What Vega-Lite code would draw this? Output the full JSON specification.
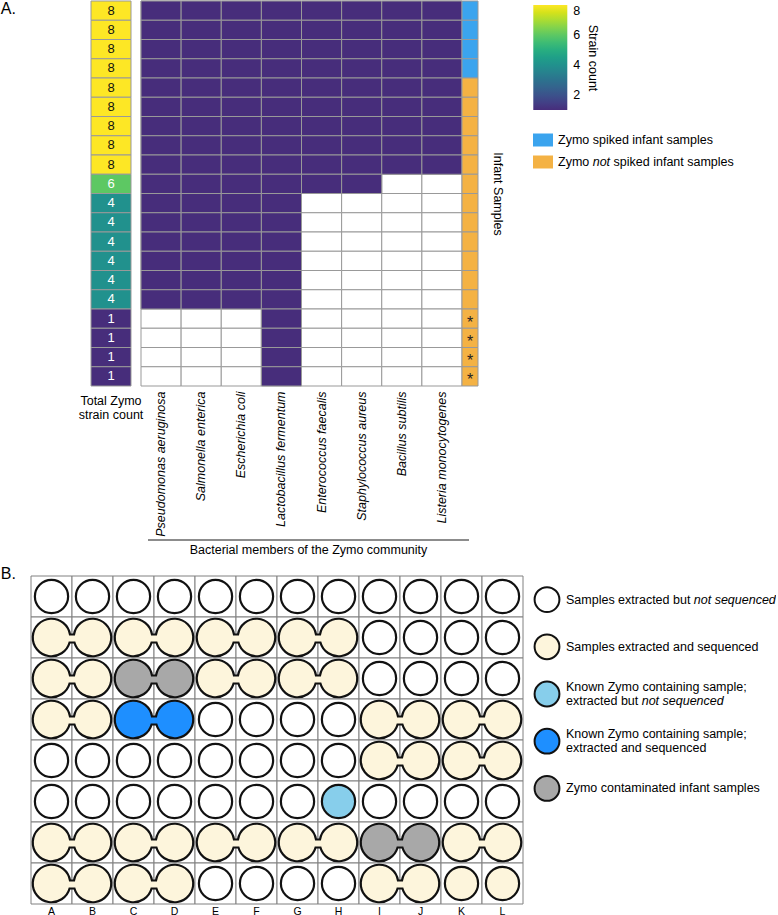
{
"$schema": "https://vega.github.io/schema/vega-lite/v6.json",
"padding": 0,
"config": {"font": "Liberation Sans", "view": {"stroke": null}, "axis": {"titleFontWeight": "normal", "labelColor": "#000", "titleColor": "#000"}, "legend": {"labelColor": "#000", "titleColor": "#000"}},
"datasets": {
"samples": [
{"id":1,"count":8,"spiked":"Zymo spiked infant samples","star":"","Pseudomonas aeruginosa":1,"Salmonella enterica":1,"Escherichia coli":1,"Lactobacillus fermentum":1,"Enterococcus faecalis":1,"Staphylococcus aureus":1,"Bacillus subtilis":1,"Listeria monocytogenes":1},
{"id":2,"count":8,"spiked":"Zymo spiked infant samples","star":"","Pseudomonas aeruginosa":1,"Salmonella enterica":1,"Escherichia coli":1,"Lactobacillus fermentum":1,"Enterococcus faecalis":1,"Staphylococcus aureus":1,"Bacillus subtilis":1,"Listeria monocytogenes":1},
{"id":3,"count":8,"spiked":"Zymo spiked infant samples","star":"","Pseudomonas aeruginosa":1,"Salmonella enterica":1,"Escherichia coli":1,"Lactobacillus fermentum":1,"Enterococcus faecalis":1,"Staphylococcus aureus":1,"Bacillus subtilis":1,"Listeria monocytogenes":1},
{"id":4,"count":8,"spiked":"Zymo spiked infant samples","star":"","Pseudomonas aeruginosa":1,"Salmonella enterica":1,"Escherichia coli":1,"Lactobacillus fermentum":1,"Enterococcus faecalis":1,"Staphylococcus aureus":1,"Bacillus subtilis":1,"Listeria monocytogenes":1},
{"id":5,"count":8,"spiked":"Zymo not spiked infant samples","star":"","Pseudomonas aeruginosa":1,"Salmonella enterica":1,"Escherichia coli":1,"Lactobacillus fermentum":1,"Enterococcus faecalis":1,"Staphylococcus aureus":1,"Bacillus subtilis":1,"Listeria monocytogenes":1},
{"id":6,"count":8,"spiked":"Zymo not spiked infant samples","star":"","Pseudomonas aeruginosa":1,"Salmonella enterica":1,"Escherichia coli":1,"Lactobacillus fermentum":1,"Enterococcus faecalis":1,"Staphylococcus aureus":1,"Bacillus subtilis":1,"Listeria monocytogenes":1},
{"id":7,"count":8,"spiked":"Zymo not spiked infant samples","star":"","Pseudomonas aeruginosa":1,"Salmonella enterica":1,"Escherichia coli":1,"Lactobacillus fermentum":1,"Enterococcus faecalis":1,"Staphylococcus aureus":1,"Bacillus subtilis":1,"Listeria monocytogenes":1},
{"id":8,"count":8,"spiked":"Zymo not spiked infant samples","star":"","Pseudomonas aeruginosa":1,"Salmonella enterica":1,"Escherichia coli":1,"Lactobacillus fermentum":1,"Enterococcus faecalis":1,"Staphylococcus aureus":1,"Bacillus subtilis":1,"Listeria monocytogenes":1},
{"id":9,"count":8,"spiked":"Zymo not spiked infant samples","star":"","Pseudomonas aeruginosa":1,"Salmonella enterica":1,"Escherichia coli":1,"Lactobacillus fermentum":1,"Enterococcus faecalis":1,"Staphylococcus aureus":1,"Bacillus subtilis":1,"Listeria monocytogenes":1},
{"id":10,"count":6,"spiked":"Zymo not spiked infant samples","star":"","Pseudomonas aeruginosa":1,"Salmonella enterica":1,"Escherichia coli":1,"Lactobacillus fermentum":1,"Enterococcus faecalis":1,"Staphylococcus aureus":1,"Bacillus subtilis":0,"Listeria monocytogenes":0},
{"id":11,"count":4,"spiked":"Zymo not spiked infant samples","star":"","Pseudomonas aeruginosa":1,"Salmonella enterica":1,"Escherichia coli":1,"Lactobacillus fermentum":1,"Enterococcus faecalis":0,"Staphylococcus aureus":0,"Bacillus subtilis":0,"Listeria monocytogenes":0},
{"id":12,"count":4,"spiked":"Zymo not spiked infant samples","star":"","Pseudomonas aeruginosa":1,"Salmonella enterica":1,"Escherichia coli":1,"Lactobacillus fermentum":1,"Enterococcus faecalis":0,"Staphylococcus aureus":0,"Bacillus subtilis":0,"Listeria monocytogenes":0},
{"id":13,"count":4,"spiked":"Zymo not spiked infant samples","star":"","Pseudomonas aeruginosa":1,"Salmonella enterica":1,"Escherichia coli":1,"Lactobacillus fermentum":1,"Enterococcus faecalis":0,"Staphylococcus aureus":0,"Bacillus subtilis":0,"Listeria monocytogenes":0},
{"id":14,"count":4,"spiked":"Zymo not spiked infant samples","star":"","Pseudomonas aeruginosa":1,"Salmonella enterica":1,"Escherichia coli":1,"Lactobacillus fermentum":1,"Enterococcus faecalis":0,"Staphylococcus aureus":0,"Bacillus subtilis":0,"Listeria monocytogenes":0},
{"id":15,"count":4,"spiked":"Zymo not spiked infant samples","star":"","Pseudomonas aeruginosa":1,"Salmonella enterica":1,"Escherichia coli":1,"Lactobacillus fermentum":1,"Enterococcus faecalis":0,"Staphylococcus aureus":0,"Bacillus subtilis":0,"Listeria monocytogenes":0},
{"id":16,"count":4,"spiked":"Zymo not spiked infant samples","star":"","Pseudomonas aeruginosa":1,"Salmonella enterica":1,"Escherichia coli":1,"Lactobacillus fermentum":1,"Enterococcus faecalis":0,"Staphylococcus aureus":0,"Bacillus subtilis":0,"Listeria monocytogenes":0},
{"id":17,"count":1,"spiked":"Zymo not spiked infant samples","star":"*","Pseudomonas aeruginosa":0,"Salmonella enterica":0,"Escherichia coli":0,"Lactobacillus fermentum":1,"Enterococcus faecalis":0,"Staphylococcus aureus":0,"Bacillus subtilis":0,"Listeria monocytogenes":0},
{"id":18,"count":1,"spiked":"Zymo not spiked infant samples","star":"*","Pseudomonas aeruginosa":0,"Salmonella enterica":0,"Escherichia coli":0,"Lactobacillus fermentum":1,"Enterococcus faecalis":0,"Staphylococcus aureus":0,"Bacillus subtilis":0,"Listeria monocytogenes":0},
{"id":19,"count":1,"spiked":"Zymo not spiked infant samples","star":"*","Pseudomonas aeruginosa":0,"Salmonella enterica":0,"Escherichia coli":0,"Lactobacillus fermentum":1,"Enterococcus faecalis":0,"Staphylococcus aureus":0,"Bacillus subtilis":0,"Listeria monocytogenes":0},
{"id":20,"count":1,"spiked":"Zymo not spiked infant samples","star":"*","Pseudomonas aeruginosa":0,"Salmonella enterica":0,"Escherichia coli":0,"Lactobacillus fermentum":1,"Enterococcus faecalis":0,"Staphylococcus aureus":0,"Bacillus subtilis":0,"Listeria monocytogenes":0}
],
"plate": [
{"row":1,"col":["A","B","C","D","E","F","G","H","I","J","K","L"],"st":["notseq","notseq","notseq","notseq","notseq","notseq","notseq","notseq","notseq","notseq","notseq","notseq"],"p":[0,0,0,0,0,0,0,0,0,0,0,0]},
{"row":2,"col":["A","B","C","D","E","F","G","H","I","J","K","L"],"st":["seq","seq","seq","seq","seq","seq","seq","seq","notseq","notseq","notseq","notseq"],"p":[1,1,1,1,1,1,1,1,0,0,0,0]},
{"row":3,"col":["A","B","C","D","E","F","G","H","I","J","K","L"],"st":["seq","seq","contam","contam","seq","seq","seq","seq","notseq","notseq","notseq","notseq"],"p":[1,1,1,1,1,1,1,1,0,0,0,0]},
{"row":4,"col":["A","B","C","D","E","F","G","H","I","J","K","L"],"st":["seq","seq","kseq","kseq","notseq","notseq","notseq","notseq","seq","seq","seq","seq"],"p":[1,1,1,1,0,0,0,0,1,1,1,1]},
{"row":5,"col":["A","B","C","D","E","F","G","H","I","J","K","L"],"st":["notseq","notseq","notseq","notseq","notseq","notseq","notseq","notseq","seq","seq","seq","seq"],"p":[0,0,0,0,0,0,0,0,1,1,1,1]},
{"row":6,"col":["A","B","C","D","E","F","G","H","I","J","K","L"],"st":["notseq","notseq","notseq","notseq","notseq","notseq","notseq","knot","notseq","notseq","notseq","notseq"],"p":[0,0,0,0,0,0,0,0,0,0,0,0]},
{"row":7,"col":["A","B","C","D","E","F","G","H","I","J","K","L"],"st":["seq","seq","seq","seq","seq","seq","seq","seq","contam","contam","seq","seq"],"p":[1,1,1,1,1,1,1,1,1,1,1,1]},
{"row":8,"col":["A","B","C","D","E","F","G","H","I","J","K","L"],"st":["seq","seq","seq","seq","notseq","notseq","notseq","notseq","seq","seq","seq","seq"],"p":[1,1,1,1,0,0,0,0,1,1,0,0]}
],
"pairs": [
{"row":2,"col":"A","st":"seq"},{"row":2,"col":"C","st":"seq"},{"row":2,"col":"E","st":"seq"},{"row":2,"col":"G","st":"seq"},
{"row":3,"col":"A","st":"seq"},{"row":3,"col":"C","st":"contam"},{"row":3,"col":"E","st":"seq"},{"row":3,"col":"G","st":"seq"},
{"row":4,"col":"A","st":"seq"},{"row":4,"col":"C","st":"kseq"},{"row":4,"col":"I","st":"seq"},{"row":4,"col":"K","st":"seq"},
{"row":5,"col":"I","st":"seq"},{"row":5,"col":"K","st":"seq"},
{"row":7,"col":"A","st":"seq"},{"row":7,"col":"C","st":"seq"},{"row":7,"col":"E","st":"seq"},{"row":7,"col":"G","st":"seq"},{"row":7,"col":"I","st":"contam"},{"row":7,"col":"K","st":"seq"},
{"row":8,"col":"A","st":"seq"},{"row":8,"col":"C","st":"seq"},{"row":8,"col":"I","st":"seq"}
]
},
"resolve": {"scale": {"fill": "independent"}},
"bounds": "flush",
"spacing": 575,
"vconcat": [
{"hconcat": [
  {"width": 60, "height": 385, "data": {"values": []}, "mark": {"type": "point", "opacity": 0}},
  {"width": 40, "height": 385, "data": {"name": "samples"},
   "title": {"text": ["Total Zymo", "strain count"], "orient": "bottom", "anchor": "middle", "frame": "group", "fontSize": 12.5, "fontWeight": "normal", "offset": 8, "baseline": "top", "lineHeight": 14, "color": "#000"},
   "encoding": {"y": {"field": "id", "type": "ordinal", "scale": {"paddingInner": 0, "paddingOuter": 0},
     "axis": {"labels": false, "ticks": false, "domain": false, "title": "A.", "titleAngle": 0, "titleX": -90.7, "titleY": 12, "titleAlign": "left", "titleBaseline": "alphabetic", "titleFontSize": 16, "titleFontWeight": "normal"}}},
   "layer": [
     {"mark": {"type": "rect", "stroke": "#999", "strokeWidth": 1},
      "encoding": {"color": {"field": "count", "type": "quantitative", "scale": {"domain": [1, 8], "scheme": {"name": "viridis", "extent": [0.125, 1]}},
        "legend": {"orient": "none", "legendX": 502.3, "legendY": 4, "title": "Strain count", "titleOrient": "right", "titleAngle": 90, "titleAnchor": "middle", "titleFontSize": 12.5, "titleFontWeight": "normal", "titlePadding": 6, "gradientLength": 105, "gradientThickness": 34, "values": [2, 4, 6, 8], "labelFontSize": 12.5, "labelOffset": 6, "direction": "vertical", "gradientStrokeWidth": 0}}}},
     {"mark": {"type": "text", "fontSize": 13, "baseline": "middle"},
      "encoding": {"text": {"field": "count", "type": "quantitative"}, "fill": {"condition": {"test": "datum.count == 8", "value": "#111"}, "value": "#ffffff"}}}
   ]},
  {"width": 10, "height": 385, "data": {"values": []}, "mark": {"type": "point", "opacity": 0}},
  {"width": 321, "height": 385, "data": {"name": "samples"},
   "transform": [{"fold": ["Pseudomonas aeruginosa", "Salmonella enterica", "Escherichia coli", "Lactobacillus fermentum", "Enterococcus faecalis", "Staphylococcus aureus", "Bacillus subtilis", "Listeria monocytogenes"], "as": ["species", "present"]}],
   "encoding": {"y": {"field": "id", "type": "ordinal", "axis": null, "scale": {"paddingInner": 0, "paddingOuter": 0}}},
   "layer": [
     {"mark": {"type": "rect", "fill": "#ffffff", "stroke": "#999", "strokeWidth": 1},
      "encoding": {"x": {"field": "species", "type": "nominal", "sort": null, "scale": {"paddingInner": 0, "paddingOuter": 0},
        "axis": {"orient": "bottom", "title": null, "domain": false, "ticks": false, "labelAngle": -90, "labelAlign": "right", "labelBaseline": "middle", "labelFontSize": 12.5, "labelFontStyle": "italic", "labelPadding": 5, "labelLimit": 0}}}},
     {"transform": [{"filter": "datum.present == 1"}],
      "mark": {"type": "rect", "stroke": "#999", "strokeWidth": 1},
      "encoding": {"x": {"field": "species", "type": "nominal", "sort": null,
        "axis": {"orient": "bottom", "labels": false, "ticks": false, "domain": true, "domainColor": "#666", "domainWidth": 1.5, "offset": 147, "translate": 7, "title": "Bacterial members of the Zymo community", "titleFontSize": 12.5, "titleFontWeight": "normal", "titlePadding": 4}},
        "color": {"field": "present", "type": "quantitative", "scale": {"domain": [1, 8], "scheme": {"name": "viridis", "extent": [0.125, 1]}}, "legend": null}}}
   ],
   "resolve": {"axis": {"x": "independent"}}},
  {"width": 16, "height": 385, "data": {"name": "samples"},
   "encoding": {"y": {"field": "id", "type": "ordinal", "scale": {"paddingInner": 0, "paddingOuter": 0},
     "axis": {"orient": "right", "labels": false, "ticks": false, "domain": false, "title": "Infant Samples", "titleAngle": 90, "titleFontSize": 12.5, "titleFontWeight": "normal", "titlePadding": 12}}},
   "layer": [
     {"mark": {"type": "rect", "stroke": "#999", "strokeWidth": 1},
      "encoding": {"fill": {"field": "spiked", "type": "nominal", "scale": {"domain": ["Zymo spiked infant samples", "Zymo not spiked infant samples"], "range": ["#3ba4ee", "#f4b244"]}, "legend": null}}},
     {"mark": {"type": "text", "fontSize": 16, "baseline": "middle", "dy": 4, "color": "#222"},
      "encoding": {"text": {"field": "star"}}}
   ]},
  {"width": 10, "height": 385, "data": {"values": []}, "mark": {"type": "point", "opacity": 0}},
  {"width": 110, "height": 385,
   "data": {"values": [{"k": "Zymo spiked infant samples", "a": "Zymo spiked infant samples", "i": "", "b": ""}, {"k": "Zymo not spiked infant samples", "a": "Zymo", "i": "not", "b": "spiked infant samples"}]},
   "encoding": {"y": {"field": "k", "type": "nominal", "sort": null, "axis": null, "scale": {"type": "point", "padding": 0, "range": [139, 161]}}},
   "layer": [
     {"mark": {"type": "point", "shape": "M -10 -6.5 L 10 -6.5 L 10 6.5 L -10 6.5 Z", "size": 4, "filled": true, "opacity": 1, "strokeWidth": 0},
      "encoding": {"fill": {"field": "k", "type": "nominal", "legend": null}}},
     {"mark": {"type": "text", "align": "left", "baseline": "middle", "dx": 15, "fontSize": 12.5}, "encoding": {"text": {"field": "a"}}},
     {"mark": {"type": "text", "align": "left", "baseline": "middle", "dx": 49.7, "fontSize": 12.5, "fontStyle": "italic"}, "encoding": {"text": {"field": "i"}}},
     {"mark": {"type": "text", "align": "left", "baseline": "middle", "dx": 70.6, "fontSize": 12.5}, "encoding": {"text": {"field": "b"}}}
   ]}
], "spacing": 0, "bounds": "flush"},
{"hconcat": [
  {"width": 492, "height": 328, "data": {"name": "plate"},
   "transform": [{"flatten": ["col", "st", "p"]}],
   "encoding": {
     "x": {"field": "col", "type": "nominal", "scale": {"type": "band", "paddingInner": 0, "paddingOuter": 0},
       "axis": {"orient": "bottom", "labelAngle": 0, "ticks": false, "domain": false, "title": null, "labelFontSize": 10.5, "labelPadding": 2}},
     "y": {"field": "row", "type": "ordinal", "scale": {"type": "band", "paddingInner": 0, "paddingOuter": 0},
       "axis": {"labels": false, "ticks": false, "domain": false, "title": "B.", "titleAngle": 0, "titleX": -30.7, "titleY": 2, "titleAlign": "left", "titleBaseline": "alphabetic", "titleFontSize": 16, "titleFontWeight": "normal"}}},
   "layer": [
     {"mark": {"type": "rect", "fill": "#ffffff", "stroke": "#808080", "strokeWidth": 1}},
     {"transform": [{"filter": "datum.p == 0"}],
      "mark": {"type": "point", "shape": "circle", "size": 1104, "filled": true, "opacity": 1, "stroke": "#111", "strokeWidth": 2.2},
      "encoding": {"fill": {"field": "st", "type": "nominal", "scale": {"domain": ["notseq", "seq", "knot", "kseq", "contam"], "range": ["#ffffff", "#fdf5dc", "#87ceeb", "#1e8fff", "#a8a8a8"]}, "legend": null}}},
     {"data": {"name": "pairs"},
      "mark": {"type": "point", "shape": "M -1.99 -3 L 1.99 -3 A 18.75 18.75 0 1 1 2.43 5 L -2.43 5 A 18.75 18.75 0 1 1 -1.99 -3 Z", "size": 4, "filled": true, "opacity": 1, "stroke": "#111", "strokeWidth": 2.2},
      "encoding": {"x": {"field": "col", "type": "nominal", "bandPosition": 1}, "fill": {"field": "st", "type": "nominal", "legend": null}}}
   ]},
  {"width": 28, "height": 236,
   "data": {"values": [
     {"st": "notseq", "t": "Samples extracted but", "i1": "not sequenced", "u": "", "v": "", "vi": ""},
     {"st": "seq", "t": "Samples extracted and sequenced", "i1": "", "u": "", "v": "", "vi": ""},
     {"st": "knot", "t": "", "i1": "", "u": "Known Zymo containing sample;", "v": "extracted but", "vi": "not sequenced"},
     {"st": "kseq", "t": "", "i1": "", "u": "Known Zymo containing sample;", "v": "extracted and sequenced", "vi": ""},
     {"st": "contam", "t": "Zymo contaminated infant samples", "i1": "", "u": "", "v": "", "vi": ""}]},
   "encoding": {"y": {"field": "st", "type": "nominal", "sort": null, "axis": null, "scale": {"type": "band", "paddingInner": 0, "paddingOuter": 0}}},
   "layer": [
     {"mark": {"type": "point", "shape": "circle", "size": 616, "filled": true, "opacity": 1, "stroke": "#111", "strokeWidth": 2},
      "encoding": {"fill": {"field": "st", "type": "nominal", "legend": null}}},
     {"mark": {"type": "text", "align": "left", "baseline": "middle", "dx": 19, "fontSize": 12.5}, "encoding": {"text": {"field": "t"}}},
     {"mark": {"type": "text", "align": "left", "baseline": "middle", "dx": 146.8, "fontSize": 12.5, "fontStyle": "italic"}, "encoding": {"text": {"field": "i1"}}},
     {"mark": {"type": "text", "align": "left", "baseline": "middle", "dx": 19, "dy": -7.25, "fontSize": 12.5}, "encoding": {"text": {"field": "u"}}},
     {"mark": {"type": "text", "align": "left", "baseline": "middle", "dx": 19, "dy": 7.25, "fontSize": 12.5}, "encoding": {"text": {"field": "v"}}},
     {"mark": {"type": "text", "align": "left", "baseline": "middle", "dx": 94.7, "dy": 7.25, "fontSize": 12.5, "fontStyle": "italic"}, "encoding": {"text": {"field": "vi"}}}
   ]}
], "spacing": 10, "bounds": "flush"}
]
}
